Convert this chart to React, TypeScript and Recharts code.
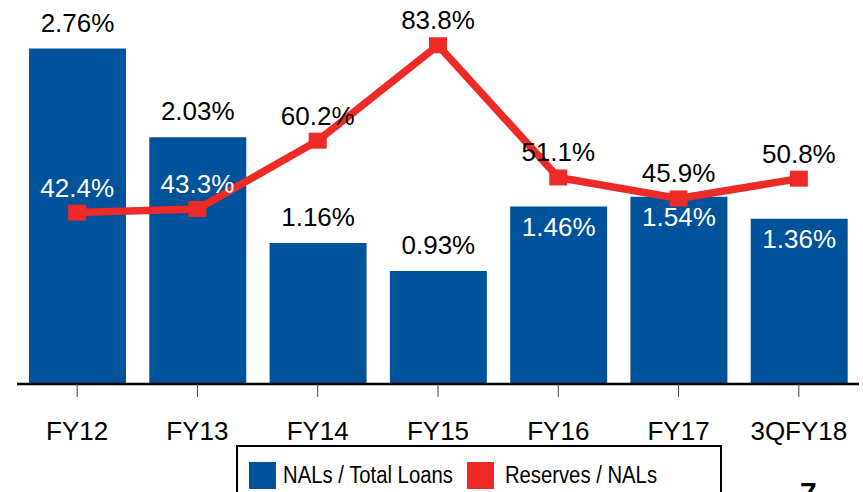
import { ComposedChart, Bar, Line, XAxis, YAxis, LabelList, Legend } from 'recharts';

const categories = ['FY12', 'FY13', 'FY14', 'FY15', 'FY16', 'FY17', '3QFY18'];
const nalsToLoans = [2.76, 2.03, 1.16, 0.93, 1.46, 1.54, 1.36];
const reservesToNals = [42.4, 43.3, 60.2, 83.8, 51.1, 45.9, 50.8];
// bars whose value label sits inside the bar (white text)
const barLabelInside = [false, false, false, false, true, true, true];
// line labels that fall over a bar and are drawn white
const lineLabelWhite = [true, true, false, false, false, false, false];

const data = categories.map((name, i) => ({
    name,
    nals: nalsToLoans[i],
    reserves: reservesToNals[i],
}));

const BLUE = '#00529B';
const RED = '#EE2A27';
const FONT = '"Liberation Sans", Arial, sans-serif';

const BarValueLabel = (props: any) => {
    const { x, y, width, value, index } = props;
    const inside = barLabelInside[index];
    return (
        <text
            x={x + width / 2}
            y={inside ? y + 29 : y - 17}
            textAnchor="middle"
            fontSize={26}
            fontFamily={FONT}
            fill={inside ? '#fff' : '#000'}
        >
            {value.toFixed(2)}%
        </text>
    );
};

const LineValueLabel = (props: any) => {
    const { x, y, value, index } = props;
    return (
        <text
            x={x}
            y={y - 16}
            textAnchor="middle"
            fontSize={26}
            fontFamily={FONT}
            fill={lineLabelWhite[index] ? '#fff' : '#000'}
        >
            {value.toFixed(1)}%
        </text>
    );
};

const SquareDot = (props: any) => {
    const { cx, cy } = props;
    return <rect x={cx - 9} y={cy - 8} width={18} height={16} fill={RED} />;
};

const legendText = {
    display: 'inline-block',
    lineHeight: '27px',
    transform: 'scaleY(1.15)',
};

const LegendBox = () => (
    <div
        style={{
            border: '2px solid #000',
            height: 60,
            boxSizing: 'border-box',
            display: 'flex',
            alignItems: 'flex-start',
            paddingTop: 15,
            paddingLeft: 11,
            fontFamily: FONT,
            fontSize: 20.3,
            color: '#000',
            background: '#fff',
            whiteSpace: 'nowrap',
        }}
    >
        <span style={{ width: 27, height: 27, background: BLUE, display: 'inline-block', marginRight: 7, flex: 'none' }} />
        <span style={{ ...legendText, marginRight: 14 }}>NALs / Total Loans</span>
        <span style={{ width: 27, height: 27, background: RED, display: 'inline-block', marginRight: 11, flex: 'none' }} />
        <span style={legendText}>Reserves / NALs</span>
    </div>
);

export default function App() {
    return (
        <div style={{ position: 'absolute', left: 0, top: 0, width: 863, height: 492, overflow: 'hidden', background: '#fff' }}>
            <ComposedChart
                width={863}
                height={492}
                data={data}
                margin={{ top: 0, right: 4, bottom: 48, left: 17 }}
            >
                <XAxis
                    dataKey="name"
                    height={60}
                    tickSize={13}
                    tickMargin={25}
                    axisLine={{ stroke: '#000', strokeWidth: 2.5 }}
                    tickLine={{ stroke: '#444', strokeWidth: 1 }}
                    tick={{ fill: '#000', fontSize: 26, fontFamily: FONT }}
                />
                <YAxis yAxisId="bar" hide domain={[0, 3.16]} />
                <YAxis yAxisId="line" orientation="right" hide domain={[0, 95]} />
                <Bar yAxisId="bar" dataKey="nals" name="NALs / Total Loans" fill={BLUE} barSize={97} isAnimationActive={false}>
                    <LabelList dataKey="nals" content={BarValueLabel} />
                </Bar>
                <Line
                    yAxisId="line"
                    dataKey="reserves"
                    name="Reserves / NALs"
                    type="linear"
                    stroke={RED}
                    strokeWidth={7.5}
                    dot={SquareDot}
                    activeDot={false}
                    isAnimationActive={false}
                >
                    <LabelList dataKey="reserves" content={LineValueLabel} />
                </Line>
                <Legend
                    layout="horizontal"
                    verticalAlign="middle"
                    align="center"
                    wrapperStyle={{ left: 236, top: 445, width: 486 }}
                    content={LegendBox}
                />
            </ComposedChart>
            <div
                style={{
                    position: 'absolute',
                    left: 800,
                    top: 476,
                    fontFamily: FONT,
                    fontWeight: 'bold',
                    fontSize: 30,
                    color: '#000',
                }}
            >
                7
            </div>
        </div>
    );
}
